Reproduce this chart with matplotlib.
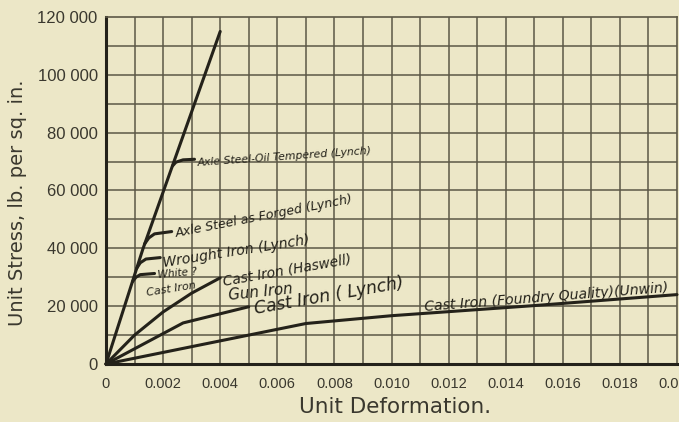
import matplotlib.pyplot as plt

# unit deformation (x) and unit stress in lb per sq. in. (y)
elastic_x = [0, 0.0013, 0.0040]
elastic_y = [0, 40000, 115000]

oil_x = [0.00233, 0.00245, 0.0027, 0.0031]
oil_y = [68500, 69800, 70600, 70800]

forged_x = [0.00135, 0.0015, 0.0017, 0.0023]
forged_y = [41500, 43600, 45000, 45800]

wrought_x = [0.00107, 0.0012, 0.0014, 0.0019]
wrought_y = [33000, 35000, 36300, 36800]

white_x = [0.00093, 0.00105, 0.0012, 0.0017]
white_y = [28500, 30000, 30900, 31300]

haswell_x = [0, 0.001, 0.002, 0.003, 0.0040]
haswell_y = [0, 10000, 18000, 24500, 29800]

lynch_ci_x = [0, 0.0027, 0.005]
lynch_ci_y = [0, 14200, 19800]

unwin_x = [0, 0.007, 0.010, 0.015, 0.020]
unwin_y = [0, 14000, 16700, 20200, 24000]

x_ticks = [0, 0.002, 0.004, 0.006, 0.008, 0.010, 0.012, 0.014, 0.016, 0.018, 0.020]
x_tick_labels = ["0", "0.002", "0.004", "0.006", "0.008", "0.010", "0.012",
                 "0.014", "0.016", "0.018", "0.020"]
y_ticks = [0, 20000, 40000, 60000, 80000, 100000, 120000]
y_tick_labels = ["0", "20 000", "40 000", "60 000", "80 000", "100 000", "120 000"]

# curve labels: text, x, y, rotation, font size
labels = [
    ("Axle Steel-Oil Tempered (Lynch)", 0.0032, 68500, 4, 7.8),
    ("Axle Steel as Forged (Lynch)", 0.00245, 44000, 11, 9.1),
    ("Wrought Iron (Lynch)", 0.0020, 33500, 9, 10.1),
    ("White ?", 0.00182, 29700, 5, 7.6),
    ("Cast Iron", 0.00144, 23500, 9, 8),
    ("Cast Iron (Haswell)", 0.00413, 27300, 10, 9.9),
    ("Gun Iron", 0.00431, 22100, 6, 10.8),
    ("Cast Iron ( Lynch)", 0.00522, 17300, 10, 12.3),
    ("Cast Iron (Foundry Quality)(Unwin)", 0.01117, 18300, 4.5, 10.1),
]

bg = "#ece7c7"
ink = "#24221a"
grid_col = "#5c5846"
text_col = "#3a382e"

fig = plt.figure(figsize=(6.79, 4.22), dpi=100, facecolor=bg)
ax = fig.add_axes([106 / 679, 58 / 422, 571 / 679, 347 / 422], facecolor=bg)

ax.set_xlim(0, 0.020)
ax.set_ylim(0, 120000)

# grid every 0.001 and every 10 000
for i in range(1, 20):
    ax.axvline(i * 0.001, color=grid_col, lw=1.1, zorder=1)
for i in range(1, 12):
    ax.axhline(i * 10000, color=grid_col, lw=1.1, zorder=1)

for s in ["top", "right"]:
    ax.spines[s].set_color(grid_col)
    ax.spines[s].set_linewidth(1.2)
for s in ["left", "bottom"]:
    ax.spines[s].set_color(ink)
    ax.spines[s].set_linewidth(2.2)

lw = 2.2
for xs, ys in [(elastic_x, elastic_y), (oil_x, oil_y), (forged_x, forged_y),
               (wrought_x, wrought_y), (white_x, white_y), (haswell_x, haswell_y),
               (lynch_ci_x, lynch_ci_y), (unwin_x, unwin_y)]:
    ax.plot(xs, ys, color=ink, lw=lw, solid_capstyle="round", zorder=3, clip_on=False)

for text, x, y, rot, size in labels:
    ax.text(x, y, text, rotation=rot, rotation_mode="anchor", ha="left", va="baseline",
            fontsize=size, style="italic", family="DejaVu Sans", color=ink, zorder=4)

ax.set_xticks(x_ticks)
ax.set_xticklabels(x_tick_labels, family="Liberation Sans", fontsize=10.5, color=text_col)
ax.set_yticks(y_ticks)
ax.set_yticklabels(y_tick_labels, family="Liberation Sans", fontsize=12, color=text_col)
ax.tick_params(axis="y", length=0, pad=6)
ax.tick_params(axis="x", length=0, pad=9)

fig.text(18 / 679, 1 - 203 / 422, "Unit Stress, lb. per sq. in.", rotation=90,
         ha="center", va="center", fontsize=14, color=text_col)
fig.text(395 / 679, 1 - 407 / 422, "Unit Deformation.", ha="center", va="center",
         fontsize=15.5, color=text_col)

fig.savefig("out.png", dpi=100, facecolor=bg)
